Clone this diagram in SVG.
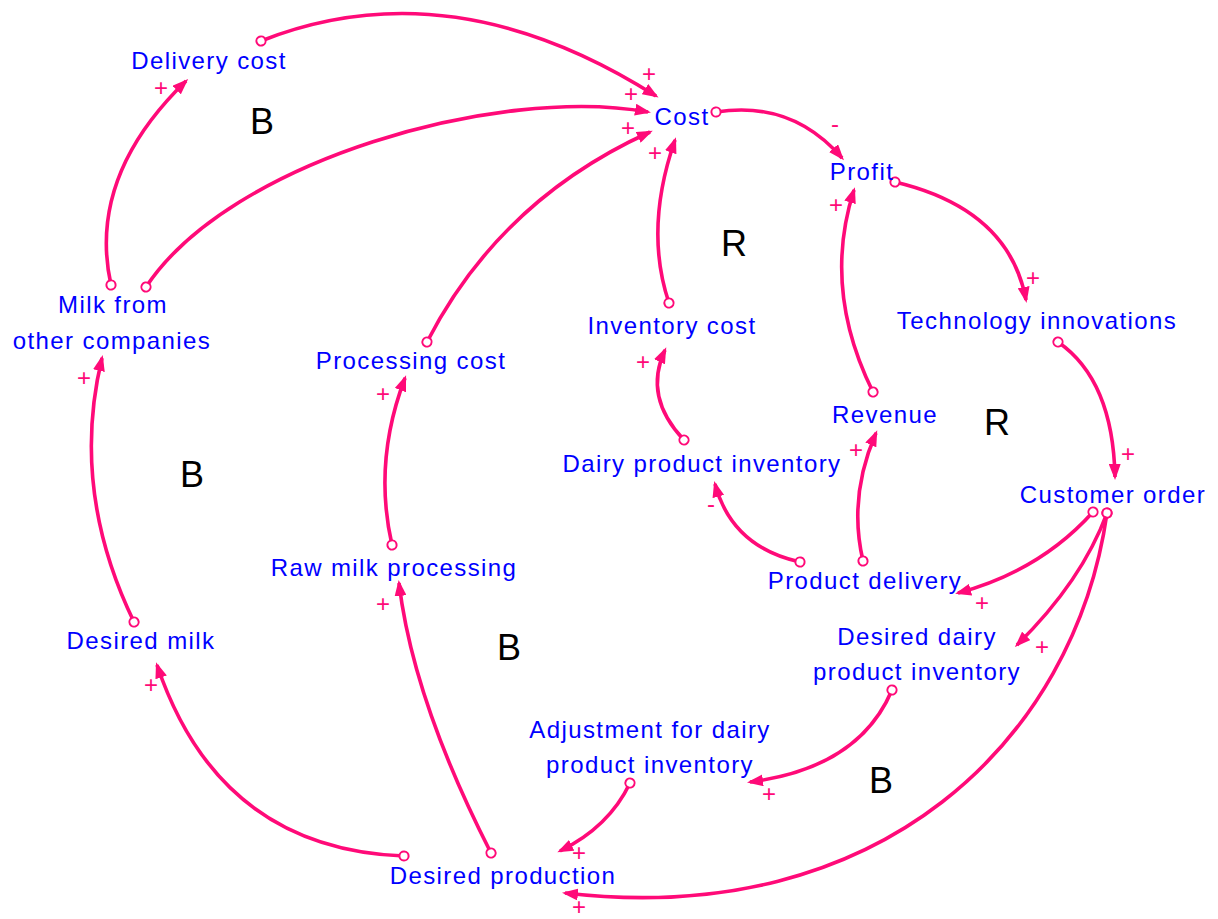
<svg xmlns="http://www.w3.org/2000/svg" width="1218" height="919" viewBox="0 0 1218 919">
  <style>
    .lbl { font-family: "Liberation Sans", Arial, sans-serif; font-size: 24px; letter-spacing: 1.4px; fill: #0000ff; text-anchor: middle; }
    .loop { font-family: "Liberation Sans", Arial, sans-serif; font-size: 36px; fill: #000000; text-anchor: middle; }
    .sign { font-family: "Liberation Sans", Arial, sans-serif; font-size: 24px; fill: #ff0a78; text-anchor: middle; dominant-baseline: central; }
    .link { fill: none; stroke: #ff0a78; stroke-width: 3.6; marker-start: url(#tail); marker-end: url(#head); }
  </style>
  <defs>
    <marker id="head" markerUnits="userSpaceOnUse" viewBox="0 0 16 12" markerWidth="16" markerHeight="12" refX="13" refY="6" orient="auto">
      <path d="M0,0 L16,6 L0,12 z" fill="#ff0a78"/>
    </marker>
    <marker id="tail" markerUnits="userSpaceOnUse" viewBox="0 0 14 14" markerWidth="14" markerHeight="14" refX="7" refY="7" orient="auto">
      <circle cx="7" cy="7" r="4.6" fill="#ffffff" stroke="#ff0a78" stroke-width="2"/>
    </marker>
  </defs>
  <rect width="1218" height="919" fill="#ffffff"/>

  <!-- causal links -->
  <g id="connectors">
    <path class="link" d="M261,41 Q451,-34 656,96"/>
    <path class="link" d="M146,287 C230,160 500,85 648,112"/>
    <path class="link" d="M427,342 Q500,200 650,132"/>
    <path class="link" d="M669,303 Q644,229 675,140"/>
    <path class="link" d="M716,112 Q792,100 842,158"/>
    <path class="link" d="M895,182 Q1009,209 1026,300"/>
    <path class="link" d="M873,392 Q822,289 854,190"/>
    <path class="link" d="M1058,342 Q1113,380 1115,477"/>
    <path class="link" d="M684,440 Q643,397 665,350"/>
    <path class="link" d="M800,562 Q732,547 715,484"/>
    <path class="link" d="M863,561 Q848,497 876,433"/>
    <path class="link" d="M1093,512 Q1040,571 958,593"/>
    <path class="link" d="M1107,513 Q1082,581 1017,645"/>
    <path class="link" d="M1107,513 C1075,740 880,930 565,893"/>
    <path class="link" d="M892,690 Q859,768 750,782"/>
    <path class="link" d="M630,783 Q609,827 560,851"/>
    <path class="link" d="M404,856 Q219,849 157,665"/>
    <path class="link" d="M491,853 Q413,700 399,583"/>
    <path class="link" d="M392,545 Q373,462 405,378"/>
    <path class="link" d="M134,622 Q70,490 102,358"/>
    <path class="link" d="M111,285 Q87,177 186,81"/>
  </g>

  <!-- link polarities -->
  <g id="polarities">
    <text class="sign" x="649" y="73">+</text>
    <text class="sign" x="631" y="93">+</text>
    <text class="sign" x="628" y="127">+</text>
    <text class="sign" x="655" y="152">+</text>
    <text class="sign" x="835" y="123">-</text>
    <text class="sign" x="1033" y="277">+</text>
    <text class="sign" x="836" y="204">+</text>
    <text class="sign" x="1128" y="453">+</text>
    <text class="sign" x="643" y="361">+</text>
    <text class="sign" x="711" y="503">-</text>
    <text class="sign" x="856" y="449">+</text>
    <text class="sign" x="982" y="602">+</text>
    <text class="sign" x="1042" y="646">+</text>
    <text class="sign" x="579" y="906">+</text>
    <text class="sign" x="769" y="793">+</text>
    <text class="sign" x="579" y="852">+</text>
    <text class="sign" x="151" y="684">+</text>
    <text class="sign" x="383" y="603">+</text>
    <text class="sign" x="383" y="393">+</text>
    <text class="sign" x="84" y="377">+</text>
    <text class="sign" x="161" y="87">+</text>
  </g>

  <!-- variables -->
  <g id="delivery-cost"><text class="lbl" x="209" y="69">Delivery cost</text></g>
  <g id="cost"><text class="lbl" x="682" y="125">Cost</text></g>
  <g id="profit"><text class="lbl" x="862" y="180">Profit</text></g>
  <g id="technology-innovations"><text class="lbl" x="1037" y="329">Technology innovations</text></g>
  <g id="milk-from-other-companies">
    <text class="lbl" x="113" y="313">Milk from</text>
    <text class="lbl" x="112" y="349">other companies</text>
  </g>
  <g id="processing-cost"><text class="lbl" x="411" y="369">Processing cost</text></g>
  <g id="inventory-cost"><text class="lbl" x="672" y="334">Inventory cost</text></g>
  <g id="revenue"><text class="lbl" x="885" y="423">Revenue</text></g>
  <g id="dairy-product-inventory"><text class="lbl" x="702" y="472">Dairy product inventory</text></g>
  <g id="customer-order"><text class="lbl" x="1113" y="503">Customer order</text></g>
  <g id="raw-milk-processing"><text class="lbl" x="394" y="576">Raw milk processing</text></g>
  <g id="product-delivery"><text class="lbl" x="865" y="589">Product delivery</text></g>
  <g id="desired-milk"><text class="lbl" x="141" y="649">Desired milk</text></g>
  <g id="desired-dairy-product-inventory">
    <text class="lbl" x="917" y="645">Desired dairy</text>
    <text class="lbl" x="917" y="680">product inventory</text>
  </g>
  <g id="adjustment-for-dairy-product-inventory">
    <text class="lbl" x="650" y="738">Adjustment for dairy</text>
    <text class="lbl" x="650" y="773">product inventory</text>
  </g>
  <g id="desired-production"><text class="lbl" x="503" y="884">Desired production</text></g>

  <!-- loop markers -->
  <g id="loops">
    <text class="loop" x="262" y="134">B</text>
    <text class="loop" x="734" y="256">R</text>
    <text class="loop" x="997" y="435">R</text>
    <text class="loop" x="192" y="487">B</text>
    <text class="loop" x="509" y="660">B</text>
    <text class="loop" x="881" y="793">B</text>
  </g>
</svg>
